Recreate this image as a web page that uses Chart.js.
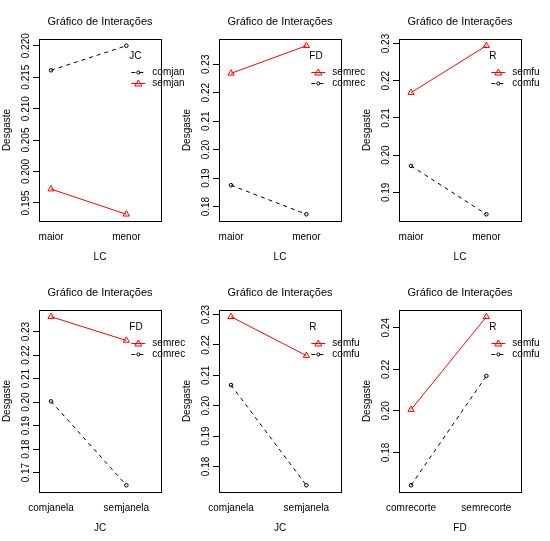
<!DOCTYPE html>
<html>
<head>
<meta charset="utf-8">
<script src="https://cdn.jsdelivr.net/npm/chart.js@4.4.0/dist/chart.umd.min.js"></script>
<style>
  body { margin: 0; background: #fff; width: 550px; height: 541px; position: relative; overflow: hidden; }
  canvas { position: absolute; }
</style>
</head>
<body>
<canvas id="p1" width="190" height="270" style="left:0;top:0"></canvas>
<canvas id="p2" width="190" height="270" style="left:180px;top:0"></canvas>
<canvas id="p3" width="190" height="270" style="left:360px;top:0"></canvas>
<canvas id="p4" width="190" height="270" style="left:0;top:271px"></canvas>
<canvas id="p5" width="190" height="270" style="left:180px;top:271px"></canvas>
<canvas id="p6" width="190" height="270" style="left:360px;top:271px"></canvas>
<script>
// factor levels
var lcLevels = ['maior', 'menor'];
var jcLevels = ['comjanela', 'semjanela'];
var fdLevels = ['comrecorte', 'semrecorte'];

// mean Desgaste per level of the x factor
var lcJc_comjan = [0.2161, 0.2200];
var lcJc_semjan = [0.1972, 0.1932];
var lcFd_semrec = [0.2268, 0.2365];
var lcFd_comrec = [0.1875, 0.1773];
var lcR_semfu = [0.2168, 0.2294];
var lcR_comfu = [0.1971, 0.1841];
var jcFd_semrec = [0.2363, 0.2262];
var jcFd_comrec = [0.2003, 0.1646];
var jcR_semfu = [0.2293, 0.2165];
var jcR_comfu = [0.2068, 0.1738];
var fdR_semfu = [0.2006, 0.2453];
var fdR_comfu = [0.1642, 0.2168];

// y tick labels per panel
var yTicks1 = ['0.195', '0.200', '0.205', '0.210', '0.215', '0.220'];
var yTicks2 = ['0.18', '0.19', '0.20', '0.21', '0.22', '0.23'];
var yTicks3 = ['0.19', '0.20', '0.21', '0.22', '0.23'];
var yTicks4 = ['0.17', '0.18', '0.19', '0.20', '0.21', '0.22', '0.23'];
var yTicks5 = ['0.18', '0.19', '0.20', '0.21', '0.22', '0.23'];
var yTicks6 = ['0.18', '0.20', '0.22', '0.24'];

var FONT = '"Liberation Sans", Arial, sans-serif';

// box around the plot region
var boxPlugin = {
    id: 'plotBox',
    afterDraw: function(chart) {
        var a = chart.chartArea, ctx = chart.ctx;
        ctx.save();
        ctx.strokeStyle = '#000';
        ctx.lineWidth = 1;
        ctx.strokeRect(Math.round(a.left) + 0.5, Math.round(a.top) + 0.5,
            Math.round(a.right - a.left), Math.round(a.bottom - a.top));
        ctx.restore();
    }
};

// R style legend: trace factor name, then line + symbol + level
var traceLegend = {
    id: 'traceLegend',
    afterDraw: function(chart, args, opts) {
        var ctx = chart.ctx;
        var x0 = chart.scales.x.getPixelForValue(2);
        var top = chart.chartArea.top;
        ctx.save();
        ctx.font = '10px ' + FONT;
        ctx.textBaseline = 'middle';
        ctx.textAlign = 'left';
        ctx.fillStyle = '#000';
        ctx.fillText(opts.title, x0 + 3, top + 17);
        opts.order.forEach(function(di, row) {
            var ds = chart.data.datasets[di];
            var y = Math.round(top + 33 + row * 10.5) + 0.5;
            ctx.strokeStyle = ds.borderColor;
            ctx.lineWidth = 1;
            ctx.setLineDash(ds.borderDash || []);
            ctx.beginPath();
            ctx.moveTo(x0 + 5, y);
            ctx.lineTo(x0 + 19, y);
            ctx.stroke();
            ctx.setLineDash([]);
            ctx.beginPath();
            var mx = x0 + 12;
            if (ds.pointStyle === 'triangle') {
                ctx.moveTo(mx, y - 3.5);
                ctx.lineTo(mx + 3.5, y + 2.5);
                ctx.lineTo(mx - 3.5, y + 2.5);
                ctx.closePath();
            } else {
                ctx.arc(mx, y, 1.6, 0, Math.PI * 2);
            }
            ctx.stroke();
            ctx.fillStyle = '#000';
            ctx.fillText(ds.label, x0 + 26, y);
        });
        ctx.restore();
    }
};

function toPoints(values) {
    return values.map(function(v, i) { return { x: i + 1, y: v }; });
}

function redSeries(label, values) {
    return {
        label: label, data: toPoints(values),
        borderColor: '#ff0000', borderWidth: 1,
        pointStyle: 'triangle', pointRadius: 3.6,
        pointBorderColor: '#ff0000', pointBackgroundColor: 'rgba(0,0,0,0)', pointBorderWidth: 1
    };
}

function blackSeries(label, values) {
    return {
        label: label, data: toPoints(values),
        borderColor: '#000000', borderWidth: 1, borderDash: [4, 4],
        pointStyle: 'circle', pointRadius: 1.8,
        pointBorderColor: '#000000', pointBackgroundColor: 'rgba(0,0,0,0)', pointBorderWidth: 1
    };
}

// width of the widest y label, so the rotated labels sit close to the ticks
var measureCtx = document.createElement('canvas').getContext('2d');
function widest(labels) {
    measureCtx.font = '10px ' + FONT;
    return Math.max.apply(null, labels.map(function(t) { return measureCtx.measureText(t).width; }));
}

function drawPanel(id, xName, levels, traceName, datasets, legendOrder, yTicks) {
    var all = [];
    datasets.forEach(function(d) { d.data.forEach(function(p) { all.push(p.y); }); });
    var lo = Math.min.apply(null, all), hi = Math.max.apply(null, all);
    var ext = (hi - lo) * 0.04;
    var tickVals = yTicks.map(parseFloat);
    var yPad = 7 - widest(yTicks) / 2;

    new Chart(document.getElementById(id), {
        type: 'line',
        data: { datasets: datasets },
        plugins: [boxPlugin, traceLegend],
        options: {
            responsive: false,
            animation: false,
            events: [],
            layout: { padding: { left: 0, right: 29, top: 0, bottom: 0 } },
            plugins: {
                legend: { display: false },
                tooltip: { enabled: false },
                title: {
                    display: true, text: 'Gráfico de Interações', color: '#000',
                    fullSize: false,
                    font: { family: FONT, size: 11, weight: 'normal' },
                    padding: { top: 15, bottom: 10.8 }
                },
                traceLegend: { title: traceName, order: legendOrder }
            },
            scales: {
                x: {
                    type: 'linear', min: 0.84, max: 2.46,
                    afterBuildTicks: function(s) { s.ticks = [{ value: 1 }, { value: 2 }]; },
                    afterFit: function(s) { s.height = 49; },
                    ticks: {
                        color: '#000', padding: 10, maxRotation: 0,
                        font: { family: FONT, size: 10 },
                        callback: function(v) { return levels[v - 1]; }
                    },
                    grid: { display: false, drawTicks: false },
                    border: { display: false },
                    title: {
                        display: true, text: xName, color: '#000',
                        font: { family: FONT, size: 10 },
                        padding: { top: 0, bottom: 7 }
                    }
                },
                y: {
                    type: 'linear', min: lo - ext, max: hi + ext,
                    afterBuildTicks: function(s) {
                        s.ticks = tickVals.map(function(v) { return { value: v }; });
                    },
                    afterFit: function(s) { s.width = 39; },
                    ticks: {
                        color: '#000', minRotation: 90, maxRotation: 90,
                        crossAlign: 'center', padding: yPad,
                        font: { family: FONT, size: 10 },
                        callback: function(v, i) { return yTicks[i]; }
                    },
                    grid: { drawOnChartArea: false, drawTicks: true, tickLength: 6, color: '#000' },
                    border: { display: false },
                    title: {
                        display: true, text: 'Desgaste', color: '#000',
                        font: { family: FONT, size: 10 },
                        padding: { top: 1, bottom: 0 }
                    }
                }
            }
        }
    });
}

drawPanel('p1', 'LC', lcLevels, 'JC',
    [blackSeries('comjan', lcJc_comjan), redSeries('semjan', lcJc_semjan)], [0, 1], yTicks1);
drawPanel('p2', 'LC', lcLevels, 'FD',
    [blackSeries('comrec', lcFd_comrec), redSeries('semrec', lcFd_semrec)], [1, 0], yTicks2);
drawPanel('p3', 'LC', lcLevels, 'R',
    [blackSeries('comfu', lcR_comfu), redSeries('semfu', lcR_semfu)], [1, 0], yTicks3);
drawPanel('p4', 'JC', jcLevels, 'FD',
    [blackSeries('comrec', jcFd_comrec), redSeries('semrec', jcFd_semrec)], [1, 0], yTicks4);
drawPanel('p5', 'JC', jcLevels, 'R',
    [blackSeries('comfu', jcR_comfu), redSeries('semfu', jcR_semfu)], [1, 0], yTicks5);
drawPanel('p6', 'FD', fdLevels, 'R',
    [blackSeries('comfu', fdR_comfu), redSeries('semfu', fdR_semfu)], [1, 0], yTicks6);
</script>
</body>
</html>
